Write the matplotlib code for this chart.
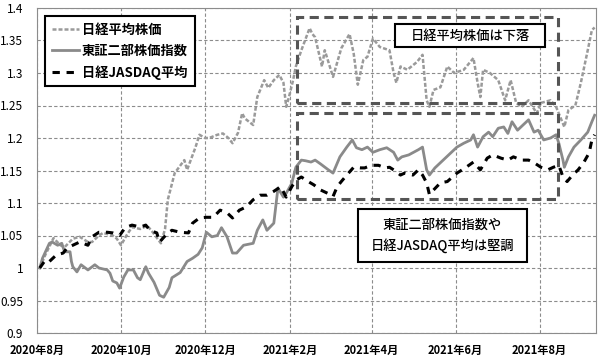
import matplotlib
matplotlib.use("Agg")
import matplotlib.pyplot as plt
import pandas as pd
from matplotlib.patches import Rectangle

plt.rcParams['font.family'] = ['Noto Sans CJK JP', 'DejaVu Sans']

# 日経平均株価 (2020年8月初 = 1)
nikkei_dates = [
    "2020-08-03", "2020-08-07", "2020-08-13", "2020-08-18", "2020-08-21", "2020-08-27",
    "2020-09-01", "2020-09-07", "2020-09-10", "2020-09-15", "2020-09-18", "2020-09-25",
    "2020-09-28", "2020-10-01", "2020-10-05", "2020-10-09", "2020-10-15", "2020-10-20",
    "2020-10-23", "2020-10-30", "2020-11-02", "2020-11-04", "2020-11-09", "2020-11-16",
    "2020-11-18", "2020-11-24", "2020-11-27", "2020-12-01", "2020-12-04", "2020-12-10",
    "2020-12-14", "2020-12-18", "2020-12-21", "2020-12-25", "2020-12-28", "2020-12-30",
    "2021-01-05", "2021-01-08", "2021-01-13", "2021-01-16", "2021-01-20", "2021-01-24",
    "2021-01-27", "2021-01-29", "2021-01-31", "2021-02-03", "2021-02-05", "2021-02-09",
    "2021-02-15", "2021-02-17", "2021-02-19", "2021-02-24", "2021-02-26", "2021-03-04",
    "2021-03-10", "2021-03-16", "2021-03-19", "2021-03-22", "2021-03-26", "2021-03-29",
    "2021-04-02", "2021-04-07", "2021-04-14", "2021-04-17", "2021-04-19", "2021-04-22",
    "2021-04-27", "2021-05-04", "2021-05-08", "2021-05-11", "2021-05-13", "2021-05-16",
    "2021-05-21", "2021-05-26", "2021-05-31", "2021-06-07", "2021-06-14", "2021-06-17",
    "2021-06-19", "2021-06-21", "2021-06-26", "2021-07-02", "2021-07-07", "2021-07-11",
    "2021-07-15", "2021-07-19", "2021-07-24", "2021-07-30", "2021-08-02", "2021-08-09",
    "2021-08-13", "2021-08-19", "2021-08-22", "2021-08-27", "2021-08-31", "2021-09-05",
    "2021-09-08", "2021-09-10",
]
nikkei = [
    1.000, 1.020, 1.046, 1.035, 1.032, 1.045,
    1.048, 1.040, 1.040, 1.050, 1.054, 1.050,
    1.045, 1.035, 1.050, 1.063, 1.060, 1.065,
    1.058, 1.038, 1.060, 1.105, 1.146, 1.166,
    1.151, 1.185, 1.205, 1.200, 1.200, 1.205,
    1.207, 1.200, 1.192, 1.208, 1.238, 1.230,
    1.220, 1.263, 1.289, 1.277, 1.289, 1.297,
    1.285, 1.248, 1.263, 1.289, 1.310, 1.335,
    1.369, 1.360, 1.355, 1.310, 1.335, 1.294,
    1.338, 1.360, 1.330, 1.282, 1.320, 1.325,
    1.353, 1.340, 1.335, 1.300, 1.285, 1.310,
    1.305, 1.317, 1.328, 1.258, 1.248, 1.274,
    1.278, 1.310, 1.300, 1.305, 1.323, 1.285,
    1.263, 1.305, 1.300, 1.289, 1.258, 1.289,
    1.254, 1.248, 1.258, 1.238, 1.254, 1.258,
    1.248, 1.217, 1.243, 1.250, 1.285, 1.335,
    1.366, 1.370,
]

# 東証二部株価指数
tse2_dates = [
    "2020-08-03", "2020-08-05", "2020-08-10", "2020-08-12", "2020-08-16", "2020-08-19",
    "2020-08-21", "2020-08-25", "2020-08-26", "2020-08-27", "2020-08-30", "2020-09-02",
    "2020-09-07", "2020-09-12", "2020-09-15", "2020-09-21", "2020-09-23", "2020-09-25",
    "2020-09-28", "2020-09-30", "2020-10-03", "2020-10-06", "2020-10-10", "2020-10-13",
    "2020-10-15", "2020-10-19", "2020-10-21", "2020-10-25", "2020-10-29", "2020-11-01",
    "2020-11-05", "2020-11-07", "2020-11-13", "2020-11-18", "2020-11-22", "2020-11-26",
    "2020-11-29", "2020-12-02", "2020-12-06", "2020-12-10", "2020-12-13", "2020-12-17",
    "2020-12-21", "2020-12-24", "2020-12-29", "2021-01-05", "2021-01-08", "2021-01-12",
    "2021-01-15", "2021-01-20", "2021-01-23", "2021-01-27", "2021-01-29", "2021-02-02",
    "2021-02-05", "2021-02-09", "2021-02-12", "2021-02-16", "2021-02-19", "2021-02-23",
    "2021-02-28", "2021-03-04", "2021-03-09", "2021-03-14", "2021-03-18", "2021-03-21",
    "2021-03-25", "2021-03-29", "2021-04-02", "2021-04-07", "2021-04-12", "2021-04-17",
    "2021-04-20", "2021-04-23", "2021-04-28", "2021-05-05", "2021-05-08", "2021-05-11",
    "2021-05-13", "2021-05-17", "2021-05-21", "2021-05-27", "2021-06-02", "2021-06-07",
    "2021-06-12", "2021-06-14", "2021-06-17", "2021-06-21", "2021-06-25", "2021-06-28",
    "2021-07-02", "2021-07-06", "2021-07-09", "2021-07-12", "2021-07-16", "2021-07-20",
    "2021-07-24", "2021-07-28", "2021-07-31", "2021-08-04", "2021-08-09", "2021-08-13",
    "2021-08-15", "2021-08-18", "2021-08-19", "2021-08-22", "2021-08-26", "2021-08-31",
    "2021-09-05", "2021-09-08", "2021-09-10",
]
tse2 = [
    1.000, 1.015, 1.038, 1.040, 1.035, 1.038,
    1.025, 1.025, 1.010, 1.002, 0.994, 1.005,
    0.997, 1.005, 1.000, 0.997, 0.992, 0.980,
    0.977, 0.969, 0.986, 0.997, 0.997, 0.985,
    0.982, 1.002, 0.992, 0.978, 0.958, 0.955,
    0.970, 0.985, 0.993, 1.010, 1.015, 1.021,
    1.031, 1.055, 1.048, 1.050, 1.062, 1.048,
    1.023, 1.023, 1.035, 1.038, 1.058, 1.074,
    1.058, 1.069, 1.123, 1.109, 1.115, 1.130,
    1.155, 1.166, 1.165, 1.163, 1.166, 1.160,
    1.152, 1.146, 1.171, 1.186, 1.197, 1.185,
    1.182, 1.186, 1.178, 1.182, 1.185, 1.178,
    1.166, 1.171, 1.174, 1.182, 1.186, 1.151,
    1.143, 1.154, 1.162, 1.174, 1.186, 1.192,
    1.197, 1.205, 1.186, 1.202, 1.209, 1.202,
    1.215, 1.217, 1.207, 1.225, 1.212, 1.220,
    1.228, 1.209, 1.212, 1.197, 1.200, 1.205,
    1.192, 1.166, 1.155, 1.171, 1.186, 1.197,
    1.209, 1.225, 1.235,
]

# 日経JASDAQ平均
jasdaq_dates = [
    "2020-08-03", "2020-08-07", "2020-08-10", "2020-08-15", "2020-08-20", "2020-08-23",
    "2020-08-27", "2020-09-01", "2020-09-07", "2020-09-10", "2020-09-15", "2020-09-21",
    "2020-09-25", "2020-09-30", "2020-10-04", "2020-10-09", "2020-10-15", "2020-10-19",
    "2020-10-22", "2020-10-27", "2020-10-29", "2020-11-04", "2020-11-07", "2020-11-13",
    "2020-11-19", "2020-11-22", "2020-11-27", "2020-12-02", "2020-12-07", "2020-12-12",
    "2020-12-17", "2020-12-21", "2020-12-26", "2020-12-31", "2021-01-05", "2021-01-10",
    "2021-01-15", "2021-01-20", "2021-01-25", "2021-01-29", "2021-02-02", "2021-02-05",
    "2021-02-09", "2021-02-14", "2021-02-18", "2021-02-23", "2021-02-28", "2021-03-04",
    "2021-03-07", "2021-03-10", "2021-03-14", "2021-03-19", "2021-03-24", "2021-03-27",
    "2021-04-01", "2021-04-06", "2021-04-11", "2021-04-14", "2021-04-17", "2021-04-22",
    "2021-04-25", "2021-05-01", "2021-05-05", "2021-05-08", "2021-05-11", "2021-05-13",
    "2021-05-16", "2021-05-21", "2021-05-26", "2021-06-02", "2021-06-08", "2021-06-14",
    "2021-06-19", "2021-06-24", "2021-06-28", "2021-07-04", "2021-07-09", "2021-07-13",
    "2021-07-19", "2021-07-24", "2021-07-28", "2021-08-02", "2021-08-07", "2021-08-11",
    "2021-08-15", "2021-08-18", "2021-08-21", "2021-08-25", "2021-08-29", "2021-09-02",
    "2021-09-06", "2021-09-08", "2021-09-10",
]
jasdaq = [
    1.000, 1.012, 1.010, 1.020, 1.023, 1.031,
    1.035, 1.040, 1.035, 1.048, 1.055, 1.055,
    1.054, 1.050, 1.062, 1.066, 1.063, 1.066,
    1.058, 1.054, 1.040, 1.054, 1.058, 1.055,
    1.054, 1.069, 1.077, 1.078, 1.078, 1.089,
    1.085, 1.077, 1.089, 1.094, 1.105, 1.112,
    1.112, 1.118, 1.125, 1.109, 1.125, 1.135,
    1.140, 1.133, 1.128, 1.120, 1.115, 1.110,
    1.125, 1.133, 1.143, 1.155, 1.154, 1.154,
    1.158, 1.158, 1.154, 1.155, 1.151, 1.143,
    1.146, 1.143, 1.151, 1.143, 1.131, 1.113,
    1.120, 1.131, 1.133, 1.146, 1.154, 1.163,
    1.151, 1.169, 1.174, 1.169, 1.166, 1.171,
    1.166, 1.166, 1.162, 1.155, 1.151, 1.155,
    1.158, 1.140, 1.133, 1.143, 1.151, 1.162,
    1.177, 1.197, 1.205,
]

series_labels = ["日経平均株価", "東証二部株価指数", "日経JASDAQ平均"]
x_ticks = ["2020-08-01", "2020-10-01", "2020-12-01", "2021-02-01",
           "2021-04-01", "2021-06-01", "2021-08-01"]
x_tick_labels = ["2020年8月", "2020年10月", "2020年12月", "2021年2月",
                 "2021年4月", "2021年6月", "2021年8月"]
y_ticks = [0.9, 0.95, 1.0, 1.05, 1.1, 1.15, 1.2, 1.25, 1.3, 1.35, 1.4]
y_tick_labels = ["0.9", "0.95", "1", "1.05", "1.1", "1.15", "1.2", "1.25", "1.3", "1.35", "1.4"]

fig = plt.figure(figsize=(6, 3.57), dpi=100)
ax = fig.add_axes([37 / 600, 1 - 333 / 357, 559 / 600, 325 / 357])

ax.plot(pd.to_datetime(nikkei_dates), nikkei, color="#9a9a9a", lw=1.8,
        dashes=(1.6, 0.8), label=series_labels[0], zorder=3)
ax.plot(pd.to_datetime(tse2_dates), tse2, color="#8a8a8a", lw=2.0,
        label=series_labels[1], zorder=3)
ax.plot(pd.to_datetime(jasdaq_dates), jasdaq, color="black", lw=2.2,
        dashes=(2.4, 2.2), label=series_labels[2], zorder=4)

ax.set_xlim(pd.Timestamp("2020-08-01"), pd.Timestamp("2021-09-11"))
ax.set_ylim(0.9, 1.4)
ax.set_xticks(pd.to_datetime(x_ticks))
ax.set_xticklabels(x_tick_labels, fontsize=8, fontweight="bold")
ax.set_yticks(y_ticks)
ax.set_yticklabels(y_tick_labels, fontsize=8.5)
ax.tick_params(axis="both", length=0)
ax.tick_params(axis="x", pad=8)
ax.tick_params(axis="y", pad=10)

ax.grid(True, color="#8c8c8c", lw=0.8, ls=(0, (3, 2)), zorder=1)
for sp in ax.spines.values():
    sp.set_color("#8c8c8c")
    sp.set_linewidth(0.8)

# 注目範囲の破線枠
for y0, y1 in [(0.708, 0.972), (0.412, 0.677)]:
    ax.add_patch(Rectangle((0.465, y0), 0.932 - 0.465, y1 - y0, transform=ax.transAxes,
                           fill=False, ec="#555555", lw=2.2, ls=(0, (3, 1.8)), zorder=5))

# 注記
ax.add_patch(Rectangle((0.640, 0.880), 0.269, 0.071, transform=ax.transAxes,
                       fc="white", ec="black", lw=1.5, zorder=6))
ax.text(0.7745, 0.915, "日経平均株価は下落", transform=ax.transAxes,
        ha="center", va="center", fontsize=9.5, fontweight="medium", zorder=7)
ax.add_patch(Rectangle((0.574, 0.218), 0.303, 0.164, transform=ax.transAxes,
                       fc="white", ec="black", lw=1.5, zorder=6))
ax.text(0.7255, 0.300, "東証二部株価指数や\n日経JASDAQ平均は堅調", transform=ax.transAxes,
        ha="center", va="center", fontsize=9.5, fontweight="medium", linespacing=1.6, zorder=7)

leg = ax.legend(loc="upper left", bbox_to_anchor=(0.0143, 0.975), borderaxespad=0,
                prop={"size": 9.5, "weight": "bold"}, handlelength=2.1, handletextpad=0.2,
                labelspacing=0.55, fancybox=False, framealpha=1, edgecolor="black",
                borderpad=0.5)
leg.get_frame().set_linewidth(1.5)
leg.set_zorder(8)

plt.savefig("out.png", dpi=100)
